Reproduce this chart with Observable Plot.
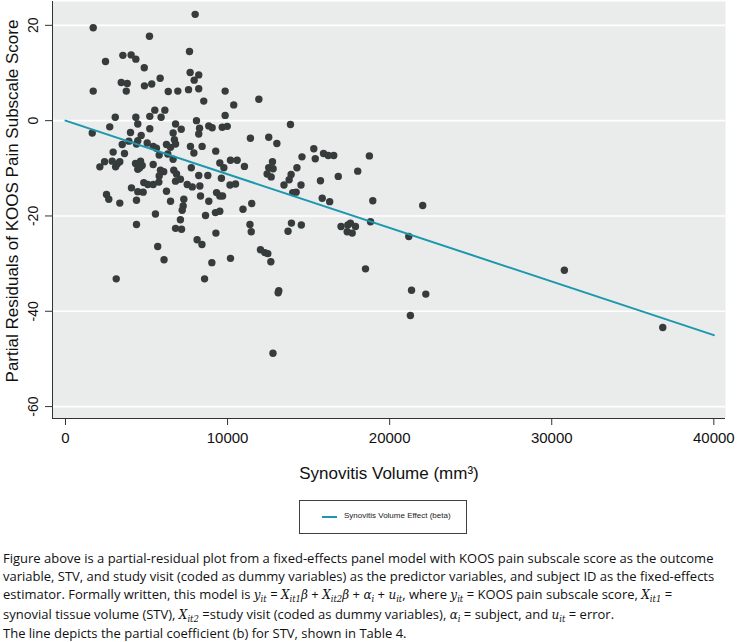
<!DOCTYPE html>
<html>
<head>
<meta charset="utf-8">
<script src="https://cdn.jsdelivr.net/npm/d3@7"></script>
<script src="https://cdn.jsdelivr.net/npm/@observablehq/plot@0.6"></script>
<style>
  html, body { margin: 0; padding: 0; background: white; }
  #wrap { position: relative; width: 737px; height: 642px; overflow: hidden; }
  #chart { position: absolute; left: 0; top: 0; }
  #legend { position: absolute; left: 299px; top: 500px; width: 168px; height: 34px; box-sizing: border-box;
            border: 1px solid #404040; background: white; }
  #legend .sw { position: absolute; left: 22px; top: 15px; width: 15px; height: 2px; background: #1b98ae; }
  #legend .lb { position: absolute; left: 44px; top: 10px; font: 8px "Liberation Sans", Arial, sans-serif; color: #222; white-space: nowrap; }
  #caption { position: absolute; left: 3px; top: 549px; width: 734px; font-family: "Open Sans", sans-serif;
             font-size: 13px; line-height: 18.2px; color: #111; white-space: nowrap; }
  #caption i { font-family: "DejaVu Serif", "Liberation Serif", serif; font-size: 12px; }
  #caption sub { font-size: 8.5px; vertical-align: -3px; line-height: 0; }
</style>
</head>
<body>
<div id="wrap">
  <div id="chart"></div>
  <div id="legend"><span class="sw"></span><span class="lb">Synovitis Volume Effect (beta)</span></div>
  <div id="caption">
    Figure above is a partial-residual plot from a fixed-effects panel model with KOOS pain subscale score as the outcome<br>
    variable, STV, and study visit (coded as dummy variables) as the predictor variables, and subject ID as the fixed-effects<br>
    estimator. Formally written, this model is <i>y<sub>it</sub></i> = <i>X<sub>it1</sub>β</i> + <i>X<sub>it2</sub>β</i> + <i>α<sub>i</sub></i> + <i>u<sub>it</sub></i>, where <i>y<sub>it</sub></i> = KOOS pain subscale score, <i>X<sub>it1</sub></i> =<br>
    synovial tissue volume (STV), <i>X<sub>it2</sub></i> =study visit (coded as dummy variables), <i>α<sub>i</sub></i> = subject, and <i>u<sub>it</sub></i> = error.<br>
    The line depicts the partial coefficient (b) for STV, shown in Table 4.
  </div>
</div>
<script>
// Synovitis volume (mm^3) of each observation
const stv = [
  8000,1710,5180,7650,2470,3540,4050,4340,4860,7690,8220,7940,3440,3810,3750,4870,5320,5840,1710,6340,
  6930,7590,8220,5510,6130,5900,5200,4340,3070,8080,9850,8530,10380,11930,9850,13880,
  4460,2730,5200,6790,7140,4010,6640,1650,4670,3500,3910,4380,4460,5040,5410,5610,6720,6790,6230,6480,
  7710,7920,2940,3640,5780,6310,2120,2410,2880,3190,3350,3090,4320,4630,4730,4460,4580,5410,6640,7760,
  5860,6060,5780,6680,6850,6790,7090,7510,7820,5760,5410,4830,5080,4070,4460,4790,6230,2530,2670,3350,
  4380,6480,7300,7260,7200,7090,7160,6790,5550,4380,8120,5690,
  8270,8220,8840,9050,9670,9980,11410,12540,13040,8430,9270,9520,9770,10180,10590,11040,15320,15920,16210,16550,
  14590,15410,12770,12540,12810,12440,12690,14280,13920,13800,13480,8220,8780,8290,9620,10150,10490,14530,14020,14230,
  15730,16830,8330,8840,9320,9520,9690,15840,16300,11490,10950,8640,9250,9520,11380,11460,9280,13940,14550,13730,
  17000,8420,12030,
  18030,18750,18960,22040,17420,17580,17890,17380,17690,18820,21180,18510,21350,22230,21280,12300,12480,12670,13160,13120,
  12800,10180,9030,8580,6080,3130,30780,36850
];
// Partial residual of KOOS pain subscale score, same order
const koosResid = [
  22.3,19.5,17.7,14.5,12.4,13.7,13.8,12.9,11.1,10.1,9.6,8.5,8.0,7.8,6.2,7.3,7.7,8.9,6.2,6.1,
  6.2,6.5,6.7,2.2,2.2,0.7,0.9,0.7,0.7,0.0,6.2,4.1,3.3,4.5,1.1,-0.8,
  -0.7,-1.3,-1.7,-0.7,-1.8,-2.5,-2.6,-2.6,-3.1,-5.0,-4.3,-4.9,-4.2,-4.7,-5.4,-5.8,-4.0,-4.9,-5.0,-5.6,
  -5.4,-6.8,-6.6,-6.9,-7.2,-7.0,-9.7,-8.6,-8.5,-9.1,-8.6,-9.7,-9.0,-8.5,-9.4,-10.2,-9.9,-9.2,-8.1,-9.9,
  -10.4,-10.7,-11.6,-10.4,-11.2,-12.7,-12.3,-13.4,-13.9,-12.9,-13.4,-13.0,-13.4,-14.1,-14.9,-15.0,-14.8,-15.5,-16.5,-17.3,
  -16.7,-16.9,-16.5,-17.9,-18.8,-20.8,-22.8,-22.6,-19.6,-21.8,-25.0,-26.4,
  -1.6,-2.8,-1.1,-1.5,-1.4,-1.2,-3.7,-3.5,-4.8,-5.4,-6.4,-8.9,-9.9,-8.3,-8.3,-9.6,-5.9,-6.9,-7.3,-7.3,
  -7.6,-8.0,-8.6,-9.9,-10.1,-11.2,-11.8,-9.9,-11.3,-12.4,-13.5,-11.5,-11.5,-13.7,-12.1,-13.5,-13.3,-13.5,-15.1,-15.0,
  -12.6,-11.7,-15.8,-16.9,-15.1,-15.8,-15.8,-16.3,-17.0,-17.4,-18.6,-19.9,-19.3,-19.0,-21.8,-23.3,-23.6,-21.5,-21.9,-23.2,
  -22.2,-26.0,-27.1,
  -10.6,-7.4,-16.8,-17.8,-21.9,-21.5,-22.2,-23.3,-23.6,-21.2,-24.3,-31.1,-35.6,-36.4,-40.9,-27.7,-27.9,-29.6,-35.7,-36.1,
  -48.8,-28.9,-29.8,-33.2,-29.2,-33.2,-31.4,-43.4
];
// Fitted partial effect line (beta for STV)
const lineX = [0, 40000];
const lineY = [0, -45];
const xTicks = [0, 10000, 20000, 30000, 40000];
const yTicks = [20, 0, -20, -40, -60];
const xTitle = "Synovitis Volume (mm³)";
const yTitle = "Partial Residuals of KOOS Pain Subscale Score";

const points = stv.map((v, i) => ({stv: v, resid: koosResid[i]}));
const fit = lineX.map((v, i) => ({stv: v, resid: lineY[i]}));
const xDom = [-802, 40721];
const yDom = [-62.5, 25];

const chart = Plot.plot({
  width: 737,
  height: 490,
  marginLeft: 52,
  marginRight: 12,
  marginTop: 1,
  marginBottom: 72,
  x: {domain: xDom, label: null},
  y: {domain: yDom, label: null},
  style: {fontFamily: "'Liberation Sans', Arial, sans-serif", background: "white", color: "#111"},
  marks: [
    Plot.frame({fill: "#eaebeb", stroke: null}),
    Plot.ruleY(yTicks, {stroke: "white", strokeWidth: 1.6}),
    Plot.ruleX([xDom[0]], {stroke: "#333", strokeWidth: 1}),
    Plot.ruleY([yDom[0]], {stroke: "#333", strokeWidth: 1}),
    Plot.axisY({ticks: yTicks, tickSize: 7, tickFormat: () => "", stroke: "#333", label: null}),
    Plot.text(yTicks, {frameAnchor: "left", textAnchor: "middle", y: d => d, text: d => String(d), rotate: -90, dx: -19, fontSize: 14, fill: "#111"}),
    Plot.axisX({ticks: xTicks, tickSize: 7, tickPadding: 7, fontSize: 15, tickFormat: d3.format("d"), stroke: "#333", fill: "#111", label: null}),
    Plot.dot(points, {x: "stv", y: "resid", r: 3.7, fill: "#363b3b", stroke: null}),
    Plot.line(fit, {x: "stv", y: "resid", stroke: "#1b98ae", strokeWidth: 2}),
    Plot.text([xTitle], {frameAnchor: "bottom", dy: 60, fontSize: 17, fill: "#111"}),
    Plot.text([yTitle], {frameAnchor: "left", textAnchor: "middle", rotate: -90, dx: -40, dy: -9, fontSize: 17, fill: "#111"})
  ]
});
document.getElementById("chart").appendChild(chart);
</script>
</body>
</html>
